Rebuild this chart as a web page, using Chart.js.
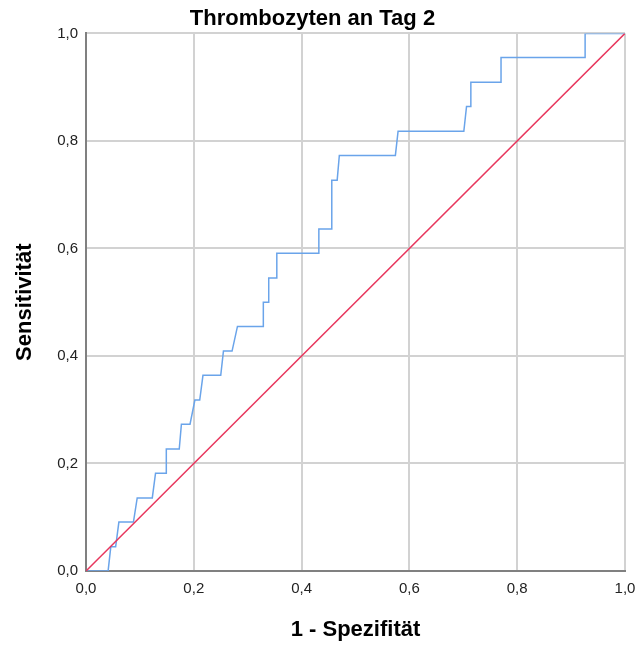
<!DOCTYPE html>
<html>
<head>
<meta charset="utf-8">
<script src="https://cdn.jsdelivr.net/npm/chart.js@4"></script>
<style>
  body { margin: 0; background: #fff; }
  canvas { display: block; }
</style>
</head>
<body>
<canvas id="roc" width="635" height="645"></canvas>
<script>
// ROC-Kurve, Werte
const fpr = [0, 0.041, 0.046, 0.055, 0.061, 0.088, 0.095, 0.123, 0.129, 0.149, 0.149, 0.173, 0.177,
    0.193, 0.202, 0.211, 0.217, 0.250, 0.255, 0.271, 0.281, 0.329, 0.329, 0.339, 0.339, 0.354,
    0.354, 0.432, 0.432, 0.456, 0.456, 0.466, 0.470, 0.574, 0.579, 0.701, 0.706, 0.714, 0.714,
    0.770, 0.770, 0.926, 0.926, 1.0];
const tpr = [0, 0, 0.045, 0.045, 0.091, 0.091, 0.136, 0.136, 0.182, 0.182, 0.227, 0.227, 0.273,
    0.273, 0.318, 0.318, 0.364, 0.364, 0.409, 0.409, 0.455, 0.455, 0.500, 0.500, 0.545, 0.545,
    0.591, 0.591, 0.636, 0.636, 0.727, 0.727, 0.773, 0.773, 0.818, 0.818, 0.864, 0.864, 0.909,
    0.909, 0.955, 0.955, 1.0, 1.0];
const refX = [0, 1];
const refY = [0, 1];
const tickValues = [0, 0.2, 0.4, 0.6, 0.8, 1.0];

const fmt = v => v.toFixed(1).replace('.', ',');

const ctx = document.getElementById('roc').getContext('2d');
const roc = new Chart(ctx, {
    type: 'scatter',
    data: {
        datasets: [{
            data: refX.map((x, i) => ({x: x, y: refY[i]})),
            showLine: true,
            borderColor: '#e8365d',
            borderWidth: 1.5,
            pointRadius: 0
        }, {
            data: fpr.map((x, i) => ({x: x, y: tpr[i]})),
            showLine: true,
            borderColor: '#6aa4ea',
            borderWidth: 1.5,
            pointRadius: 0
        }]
    },
    options: {
        responsive: false,
        animation: false,
        layout: {
            padding: {left: 0, right: 10, top: 0, bottom: 0}
        },
        scales: {
            x: {
                type: 'linear',
                min: 0,
                max: 1,
                afterBuildTicks: s => { s.ticks = tickValues.map(v => ({value: v})); },
                afterFit: s => { s.height = 74; s.paddingRight = 0; s.paddingLeft = 0; },
                grid: {
                    color: c => c.tick && c.tick.value === 0 ? 'rgba(0,0,0,0)' : '#d2d2d2',
                    lineWidth: 2,
                    drawTicks: false
                },
                border: {color: '#808080', width: 2},
                ticks: {
                    padding: 9,
                    color: '#222',
                    font: {family: 'Liberation Sans', size: 15},
                    callback: v => fmt(v)
                },
                title: {
                    display: true,
                    text: '1 - Spezifität',
                    color: '#000',
                    font: {family: 'Liberation Sans', size: 22, weight: 'bold'},
                    padding: {top: 0, bottom: 2}
                }
            },
            y: {
                type: 'linear',
                min: 0,
                max: 1,
                afterBuildTicks: s => { s.ticks = tickValues.map(v => ({value: v})); },
                afterFit: s => { s.width = 86; },
                grid: {
                    color: c => c.tick && c.tick.value === 0 ? 'rgba(0,0,0,0)' : '#d2d2d2',
                    lineWidth: 2,
                    drawTicks: false
                },
                border: {color: '#808080', width: 2},
                ticks: {
                    padding: 8,
                    color: '#222',
                    font: {family: 'Liberation Sans', size: 15},
                    callback: v => fmt(v)
                },
                title: {
                    display: true,
                    text: 'Sensitivität',
                    color: '#000',
                    font: {family: 'Liberation Sans', size: 22, weight: 'bold'},
                    padding: {top: 12, bottom: 0}
                }
            }
        },
        plugins: {
            legend: {
                display: false
            },
            tooltip: {
                enabled: false
            },
            title: {
                display: true,
                text: 'Thrombozyten an Tag 2',
                color: '#000',
                font: {family: 'Liberation Sans', size: 22, weight: 'bold'},
                padding: {top: 6, bottom: 1}
            }
        }
    }
});
</script>
</body>
</html>
